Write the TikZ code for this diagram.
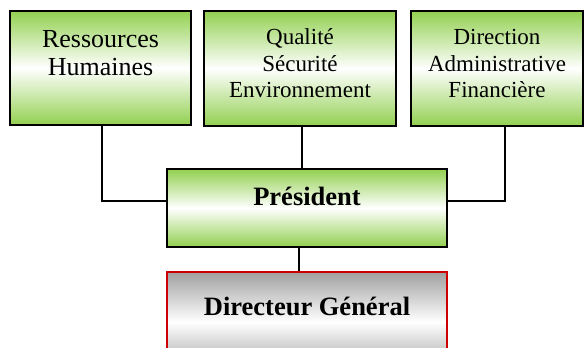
\documentclass[tikz,border=0pt]{standalone}
\usepackage{fontspec}
\setmainfont{Liberation Serif}
\definecolor{lgreen}{RGB}{146,208,80}
\definecolor{dgray}{RGB}{160,160,160}
\begin{document}
\begin{tikzpicture}[x=1pt,y=-1pt,
  unit/.style={draw=black,line width=1.8pt,rectangle,inner sep=2pt,align=center,
    top color=lgreen,bottom color=lgreen,middle color=white,
    font=\fontsize{23}{26.5}\selectfont},
  boss/.style={draw=black,line width=1.8pt,rectangle,inner sep=2pt,align=center,
    top color=lgreen,bottom color=lgreen,middle color=white,
    font=\fontsize{26.5}{30}\selectfont\bfseries},
  dg/.style={draw=red!80!black,line width=1.3pt,rectangle,inner sep=2pt,align=center,
    top color=dgray,bottom color=dgray,middle color=white,
    font=\fontsize{26.5}{30}\selectfont\bfseries},
  link/.style={draw=black,line width=1.2pt}]
\useasboundingbox (0,0) rectangle (584,348);
\node[unit,minimum width=181pt,minimum height=114pt,text depth=31pt,
  font=\fontsize{26}{28}\selectfont] (rh) at (100.5,68) {Ressources\\Humaines};
\node[unit,minimum width=192pt,minimum height=115pt,text depth=10pt] (qse) at (300,68.5) {Qualité\\Sécurité\\Environnement};
\node[unit,minimum width=172pt,minimum height=115pt,text depth=10pt] (daf) at (497,68.5) {Direction\\Administrative\\Financière};
\node[boss,minimum width=280pt,minimum height=78pt,text depth=24pt] (pres) at (307,208) {Président};
\node[dg,minimum width=280pt,minimum height=100pt,text depth=32pt] (dir) at (307,322) {Directeur Général};
\draw[link] ([xshift=1.5pt]rh.south) |- ([yshift=7pt]pres.west);
\draw[link] ([xshift=2pt]qse.south) -- ([xshift=2pt]qse.south |- pres.north);
\draw[link] ([xshift=8pt]daf.south) |- ([yshift=7pt]pres.east);
\draw[link] ([xshift=-8pt]pres.south) -- ([xshift=-8pt]pres.south |- dir.north);
\end{tikzpicture}
\end{document}
